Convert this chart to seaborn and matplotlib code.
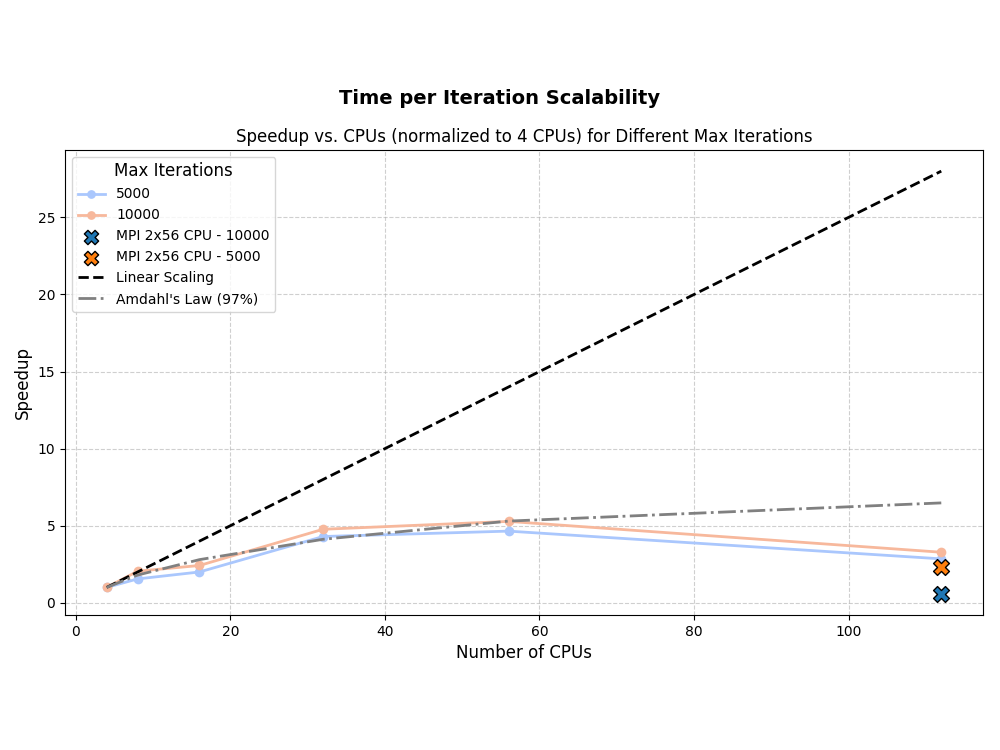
import pandas as pd
import matplotlib
matplotlib.use('Agg')
import matplotlib.pyplot as plt
import seaborn as sns

cpus = [4, 8, 16, 32, 56, 112]
speedup_5000 = [1.0, 1.55, 2.0, 4.3, 4.65, 2.85]
speedup_10000 = [1.0, 2.05, 2.42, 4.77, 5.28, 3.28]
linear = [1.0, 2.0, 4.0, 8.0, 14.0, 28.0]
amdahl = [1.0, 1.8, 2.8, 4.12, 5.3, 6.48]
mpi_cpus = [112]
mpi_10000 = [0.58]
mpi_5000 = [2.32]

df = pd.DataFrame({
    'CPUs': cpus * 2,
    'Speedup': speedup_5000 + speedup_10000,
    'Max Iterations': ['5000'] * len(cpus) + ['10000'] * len(cpus),
})

fig, ax = plt.subplots(figsize=(10, 7.5), dpi=100)
sns.lineplot(data=df, x='CPUs', y='Speedup', hue='Max Iterations', marker='o',
             palette='coolwarm', linewidth=2, markersize=7, markeredgewidth=0, ax=ax)
ax.scatter(mpi_cpus, mpi_10000, marker='X', s=130, color='#1f77b4', edgecolor='black',
           linewidth=1, zorder=5, label='MPI 2x56 CPU - 10000')
ax.scatter(mpi_cpus, mpi_5000, marker='X', s=130, color='#ff7f0e', edgecolor='black',
           linewidth=1, zorder=5, label='MPI 2x56 CPU - 5000')
ax.plot(cpus, linear, 'k--', linewidth=2, label='Linear Scaling')
ax.plot(cpus, amdahl, color='gray', linestyle='-.', linewidth=2, label="Amdahl's Law (97%)")

ax.grid(True, linestyle='--', alpha=0.6)
ax.set_xlabel('Number of CPUs', fontsize=12)
ax.set_ylabel('Speedup', fontsize=12)
ax.set_title('Speedup vs. CPUs (normalized to 4 CPUs) for Different Max Iterations', fontsize=12)
fig.suptitle('Time per Iteration Scalability', fontsize=14, fontweight='bold', y=0.882)
ax.legend(title='Max Iterations', title_fontsize=12, fontsize=10, loc='upper left',
          markerscale=0.9)
plt.subplots_adjust(left=0.065, right=0.983, top=0.8, bottom=0.18)
plt.savefig('out.png')
